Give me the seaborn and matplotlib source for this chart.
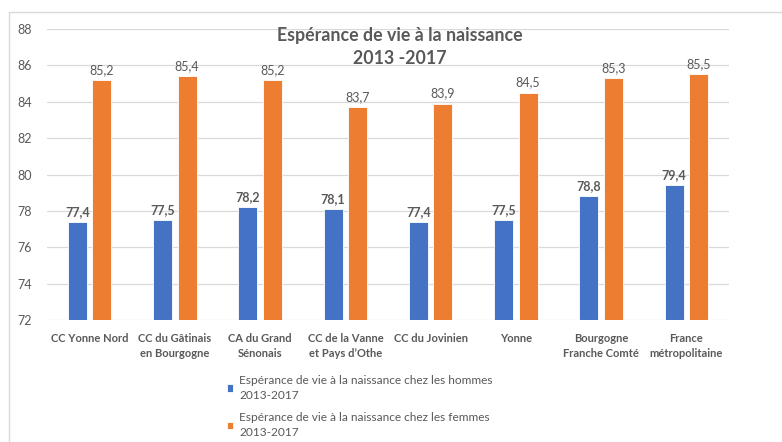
import matplotlib
matplotlib.use("Agg")
import matplotlib.pyplot as plt
from matplotlib.lines import Line2D
import seaborn as sns
import pandas as pd

# Territoires comparés
territoires = [
    "CC Yonne Nord", "CC du Gâtinais en Bourgogne", "CA du Grand Sénonais",
    "CC de la Vanne et Pays d’Othe", "CC du Jovinien", "Yonne",
    "Bourgogne Franche Comté", "France métropolitaine",
]
etiquettes = [
    "CC Yonne Nord", "CC du Gâtinais\nen Bourgogne", "CA du Grand\nSénonais",
    "CC de la Vanne\net Pays d’Othe", "CC du Jovinien", "Yonne",
    "Bourgogne\nFranche Comté", "France\nmétropolitaine",
]
hommes = [77.4, 77.5, 78.2, 78.1, 77.4, 77.5, 78.8, 79.4]
femmes = [85.2, 85.4, 85.2, 83.7, 83.9, 84.5, 85.3, 85.5]
serie_h = "Espérance de vie à la naissance chez les hommes\n2013-2017"
serie_f = "Espérance de vie à la naissance chez les femmes\n2013-2017"
graduations = [72, 74, 76, 78, 80, 82, 84, 86, 88]

df = pd.DataFrame({
    "territoire": territoires * 2,
    "valeur": hommes + femmes,
    "serie": [serie_h] * len(hommes) + [serie_f] * len(femmes),
})

GRIS = "#595959"
sns.set_theme(style="white")
plt.rcParams["font.family"] = ["Lato", "DejaVu Sans"]

W, H = 782, 442
fig = plt.figure(figsize=(W / 100, H / 100), dpi=100)
ax = fig.add_axes([47 / W, 1 - 320 / H, (729 - 47) / W, (320 - 29) / H])

sns.barplot(
    data=df, x="territoire", y="valeur", hue="serie", order=territoires,
    hue_order=[serie_h, serie_f], palette=["#4472C4", "#ED7D31"],
    saturation=1, width=0.577, gap=0.228, edgecolor="white", linewidth=0.6,
    ax=ax, legend=True,
)

ax.set_ylim(72, 88)
ax.set_yticks(graduations)
ax.set_yticklabels([str(g) for g in graduations], color=GRIS, fontsize=9)
ax.set_xticks(range(len(territoires)))
ax.set_xticklabels(etiquettes, color=GRIS, fontsize=8.0, fontweight="bold",
                   linespacing=1.5)
ax.tick_params(axis="both", length=0)
ax.tick_params(axis="y", pad=11)
ax.tick_params(axis="x", pad=9)
ax.set_xlabel("")
ax.set_ylabel("")
ax.grid(axis="y", color="#D9D9D9", linewidth=0.9)
ax.set_axisbelow(True)
for s in ax.spines.values():
    s.set_visible(False)

for cont, gras in zip(ax.containers, ["bold", "normal"]):
    ax.bar_label(cont, labels=[f"{v:.1f}".replace(".", ",") for v in cont.datavalues],
                 padding=3, color=GRIS, fontsize=9, fontweight=gras)

handles, labels = ax.get_legend_handles_labels()
ax.get_legend().remove()
fig.legend(handles, labels, loc="upper left",
           bbox_to_anchor=(222 / W, 1 - 370 / H), frameon=False,
           labelcolor=GRIS, handlelength=0.55, handleheight=0.55,
           handletextpad=0.5, labelspacing=0.95, borderaxespad=0,
           prop={"size": 8.6})
for t in fig.legends[0].get_texts():
    t.set_linespacing(1.45)

fig.text(400 / W, 1 - 47 / H, "Espérance de vie à la naissance\n2013 -2017",
         ha="center", va="center", fontsize=12.8, fontweight="bold",
         color=GRIS, linespacing=1.5)

# Cadre de la zone graphique
fig.add_artist(Line2D([9 / W, 1], [1 - 12 / H, 1 - 12 / H], color="#D9D9D9", lw=1))
fig.add_artist(Line2D([9 / W, 9 / W], [0, 1 - 12 / H], color="#D9D9D9", lw=1))

fig.savefig("out.png", dpi=100, facecolor="white")
